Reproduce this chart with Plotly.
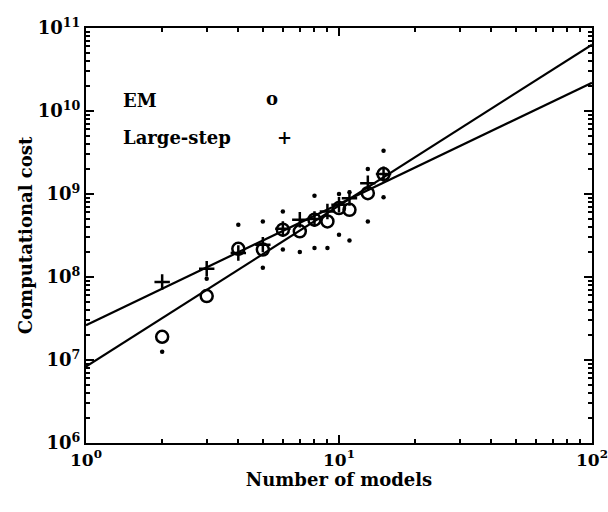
import plotly.graph_objects as go

# Data
n_models = [2, 3, 4, 5, 6, 7, 8, 9, 10, 11, 13, 15]
em_cost = [10**7.28, 10**7.77, 10**8.34, 10**8.33, 10**8.57, 10**8.55,
           10**8.69, 10**8.67, 10**8.83, 10**8.81, 10**9.01, 10**9.24]
ls_cost = [10**7.94, 10**8.10, 10**8.29, 10**8.39, 10**8.58, 10**8.69,
           10**8.70, 10**8.79, 10**8.87, 10**8.95, 10**9.13, 10**9.24]
dot_x = [2, 3, 4, 5, 5, 6, 6, 7, 8, 8, 9, 10, 10, 11, 11, 13, 13, 15, 15]
dot_y = [10**7.10, 10**7.98, 10**8.63, 10**8.67, 10**8.11, 10**8.79, 10**8.33,
         10**8.30, 10**8.98, 10**8.35, 10**8.35, 10**9.00, 10**8.51, 10**9.02,
         10**8.44, 10**9.30, 10**8.67, 10**9.52, 10**8.96]
fit_x = [1, 100]
em_fit = [10**6.92, 10**10.80]
ls_fit = [10**7.42, 10**10.34]

x_tickvals = [1, 10, 100]
x_ticktext = ["10<sup>0</sup>", "10<sup>1</sup>", "10<sup>2</sup>"]
y_tickvals = [1e6, 1e7, 1e8, 1e9, 1e10, 1e11]
y_ticktext = ["10<sup>6</sup>", "10<sup>7</sup>", "10<sup>8</sup>",
              "10<sup>9</sup>", "10<sup>10</sup>", "10<sup>11</sup>"]
x_minor = [m * 10**d for d in range(0, 2) for m in range(2, 10)]
y_minor = [m * 10**d for d in range(6, 11) for m in range(2, 10)]

FONT = "DejaVu Serif"

fig = go.Figure()
fig.add_trace(go.Scatter(x=fit_x, y=em_fit, mode="lines",
                         line=dict(color="black", width=2.2), showlegend=False))
fig.add_trace(go.Scatter(x=fit_x, y=ls_fit, mode="lines",
                         line=dict(color="black", width=2.2), showlegend=False,
                         xaxis="x2", yaxis="y2"))
fig.add_trace(go.Scatter(x=dot_x, y=dot_y, mode="markers",
                         marker=dict(symbol="circle", size=4.5, color="black"),
                         showlegend=False))
fig.add_trace(go.Scatter(x=n_models, y=ls_cost, mode="markers",
                         marker=dict(symbol="cross-thin", size=11, color="black",
                                     line=dict(color="black", width=2.5)),
                         showlegend=False))
fig.add_trace(go.Scatter(x=n_models, y=em_cost, mode="markers",
                         marker=dict(symbol="circle-open", size=12, color="black",
                                     line=dict(color="black", width=2.5)),
                         showlegend=False))

axis_common = dict(
    type="log", showline=True, linecolor="black", linewidth=2.2,
    mirror="ticks", ticks="inside", ticklen=8, tickwidth=2,
    tickcolor="black", showgrid=False, zeroline=False,
    ticklabeloverflow="allow", automargin=False, tickmode="array",
)

fig.update_layout(
    xaxis=dict(**axis_common, range=[0, 2],
               tickvals=x_tickvals, ticktext=x_ticktext,
               tickfont=dict(family=FONT, size=17, color="black", weight="bold"),
               title=dict(text="<b>Number of models</b>", standoff=0,
                          font=dict(family=FONT, size=18, color="black"))),
    yaxis=dict(**axis_common, range=[6, 11],
               tickvals=y_tickvals, ticktext=y_ticktext,
               tickfont=dict(family=FONT, size=18, color="black", weight="bold"),
               title=dict(text="<b>Computational cost</b>", standoff=0,
                          font=dict(family=FONT, size=18, color="black"))),
    xaxis2=dict(type="log", range=[0, 2], overlaying="x", side="bottom",
                anchor="y2", showline=False, mirror="ticks", ticks="inside",
                ticklen=4, tickwidth=1.5, tickcolor="black", showgrid=False,
                zeroline=False, tickmode="array", tickvals=x_minor,
                showticklabels=False),
    yaxis2=dict(type="log", range=[6, 11], overlaying="y", side="left",
                anchor="x2", showline=False, mirror="ticks", ticks="inside",
                ticklen=4, tickwidth=1.5, tickcolor="black", showgrid=False,
                zeroline=False, tickmode="array", tickvals=y_minor,
                showticklabels=False),
)

legend_font = dict(family=FONT, size=18, color="black")
fig.add_annotation(xref="paper", yref="paper", x=0.07, y=0.826,
                   xanchor="left", yanchor="middle", showarrow=False,
                   text="<b>EM</b>", font=legend_font)
fig.add_annotation(xref="paper", yref="paper", x=0.07, y=0.735,
                   xanchor="left", yanchor="middle", showarrow=False,
                   text="<b>Large-step</b>", font=legend_font)
fig.add_annotation(xref="paper", yref="paper", x=0.368, y=0.83,
                   xanchor="center", yanchor="middle", showarrow=False,
                   text="<b>o</b>", font=legend_font)
fig.add_annotation(xref="paper", yref="paper", x=0.392, y=0.735,
                   xanchor="center", yanchor="middle", showarrow=False,
                   text="<b>+</b>", font=legend_font)

fig.update_layout(
    width=608, height=512,
    margin=dict(l=86, r=16, t=28, b=69),
    paper_bgcolor="white", plot_bgcolor="white",
    showlegend=False,
)

fig.write_html("out.html")
